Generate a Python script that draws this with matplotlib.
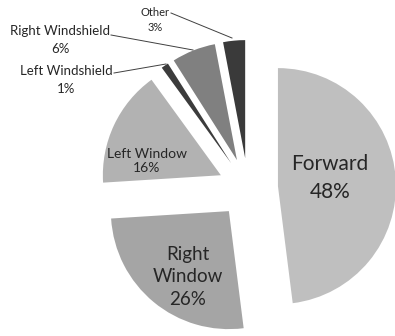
import matplotlib
matplotlib.use("Agg")
import matplotlib.pyplot as plt

# Share of glances by direction
directions = ["Forward", "Right Window", "Left Window", "Left Windshield", "Right Windshield", "Other"]
shares = [48, 26, 16, 1, 6, 3]
colors = ["#BFBFBF", "#A5A5A5", "#B2B2B2", "#3C3C3C", "#808080", "#3A3A3A"]

plt.rcParams["font.family"] = ["Lato", "DejaVu Sans"]

fig = plt.figure(figsize=(3.95, 3.36), dpi=100)
ax = fig.add_axes([0, 0, 1, 1])

# work in pixel-like units: x 0..395, y 0..336 (bottom up)
radius = 118
ax.pie(shares, colors=colors, startangle=90, counterclock=False,
       center=(248, 148), radius=radius, explode=[30] * len(shares),
       wedgeprops=dict(linewidth=0), frame=True)
ax.set_xlim(0, 395)
ax.set_ylim(0, 336)
ax.set_aspect("auto")
ax.axis("off")

txt = "#262626"
def pct(i):
    return f"{shares[i]}%"

# labels inside the big slices
ax.text(330, 158, f"Forward\n{pct(0)}", ha="center", va="center",
        fontsize=15, color=txt, linespacing=1.5)
ax.text(188, 59, f"Right\nWindow\n{pct(1)}", ha="center", va="center",
        fontsize=13.5, color=txt, linespacing=1.4)
ax.text(147, 175, f"Left Window\n{pct(2)}", ha="center", va="center",
        fontsize=10, color=txt, linespacing=1.3)

# outside labels with leader lines
ax.text(66, 256, f"Left Windshield\n{pct(3)}", ha="center", va="center",
        fontsize=9.5, color=txt, linespacing=1.6)
ax.plot([114, 166], [263, 272], color="#404040", lw=0.7)
ax.text(60, 296, f"Right Windshield\n{pct(4)}", ha="center", va="center",
        fontsize=9.5, color=txt, linespacing=1.6)
ax.plot([111, 193], [301, 286], color="#404040", lw=0.7)
ax.text(155, 316, f"Other\n{pct(5)}", ha="center", va="center",
        fontsize=8, color=txt, linespacing=1.45)
ax.plot([171, 232], [323, 298], color="#404040", lw=0.7)

fig.savefig("out.png", dpi=100)
